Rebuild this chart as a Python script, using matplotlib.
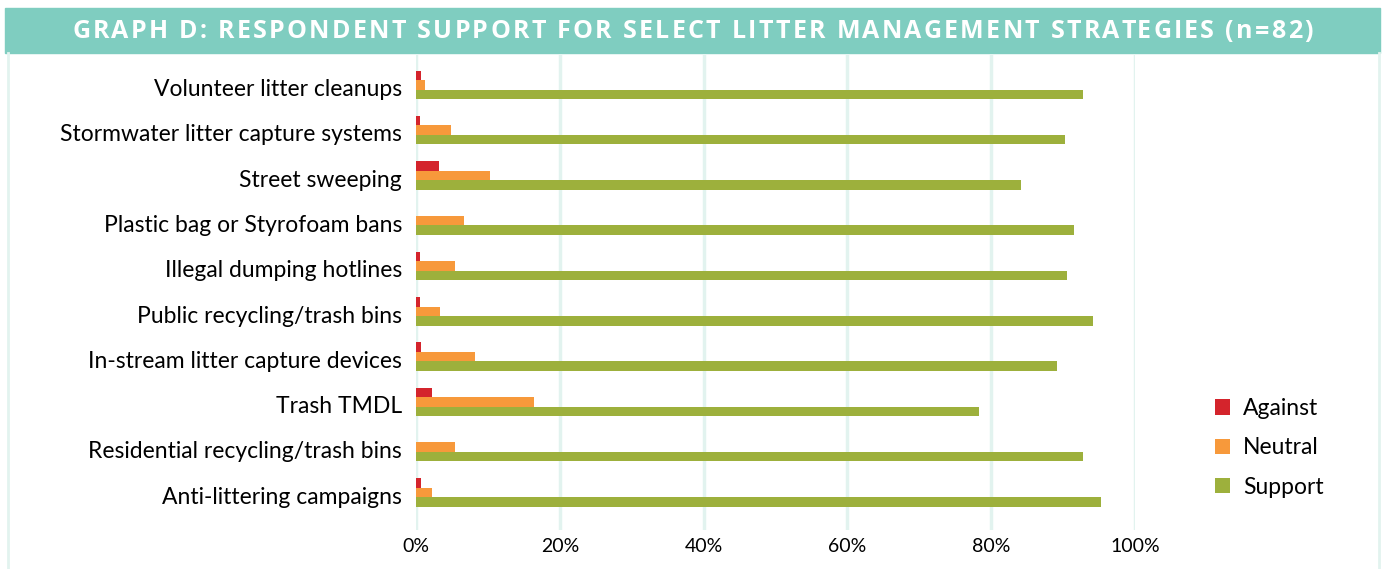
import matplotlib.pyplot as plt
from matplotlib.patches import Rectangle
import numpy as np

plt.rcParams['font.family'] = ['Lato', 'DejaVu Sans']

title = "GRAPH D: RESPONDENT SUPPORT FOR SELECT LITTER MANAGEMENT STRATEGIES (n=82)"
categories = ["Volunteer litter cleanups", "Stormwater litter capture systems",
              "Street sweeping", "Plastic bag or Styrofoam bans",
              "Illegal dumping hotlines", "Public recycling/trash bins",
              "In-stream litter capture devices", "Trash TMDL",
              "Residential recycling/trash bins", "Anti-littering campaigns"]
against = [0.7, 0.6, 3.2, 0.0, 0.6, 0.6, 0.7, 2.2, 0.0, 0.7]
neutral = [1.2, 4.9, 10.3, 6.7, 5.4, 3.3, 8.2, 16.4, 5.4, 2.2]
support = [92.7, 90.2, 84.1, 91.5, 90.5, 94.1, 89.1, 78.3, 92.7, 95.3]
ticks = [0, 20, 40, 60, 80, 100]

red = "#d4242c"
orange = "#f7993b"
green = "#9db03c"
teal = "#7fcdc0"
grid = "#e2f3ef"

W, H = 1387, 569
fig = plt.figure(figsize=(W / 100, H / 100), dpi=100)

# title banner and frame
fig.patches.append(Rectangle((5 / W, 1 - 53 / H), 1375 / W, 45 / H,
                             transform=fig.transFigure, color=teal, zorder=0))
for xf in (8 / W, 1379 / W):
    fig.add_artist(plt.Line2D([xf, xf], [0, 1 - 53 / H], transform=fig.transFigure,
                              color=grid, lw=2))

# title with letter spacing: place each character at its kerned offset plus a gap
renderer = fig.canvas.get_renderer()
tkw = dict(color="white", fontsize=18, fontweight="bold",
           family=["Open Sans", "DejaVu Sans"], va="center", ha="left")


def prefix_width(s):
    if not s:
        return 0.0
    t = fig.text(0, 0, s.replace(" ", "\u00a0"), **tkw)
    w = t.get_window_extent(renderer).width
    t.remove()
    return w


full = prefix_width(title)
gap = (1241 - full) / (len(title) - 1)
x0 = 72
for i, ch in enumerate(title):
    if ch == " ":
        continue
    xp = x0 + prefix_width(title[:i]) + i * gap
    fig.text(xp / W, 1 - 32 / H, ch, **tkw)

ax = fig.add_axes([416 / W, 1 - 530 / H, 719 / W, 475 / H])
y = np.arange(len(categories))
h = 0.21
ax.barh(y - h, against, height=h, color=red, label="Against", zorder=3)
ax.barh(y, neutral, height=h, color=orange, label="Neutral", zorder=3)
ax.barh(y + h, support, height=h, color=green, label="Support", zorder=3)

ax.set_xlim(0, 100)
ax.set_ylim(9.83, -0.66)
ax.set_yticks(y + 0.06)
ax.set_yticklabels(categories, fontsize=16.5)
ax.set_xticks(ticks)
ax.set_xticklabels([f"{t}%" for t in ticks], fontsize=14)
ax.tick_params(length=0, pad=6)
ax.tick_params(axis="y", pad=10)
for t in ticks:
    ax.axvline(t, color=grid, lw=2.5, zorder=1)
for s in ax.spines.values():
    s.set_visible(False)
ax.set_facecolor("none")

handles, labels = ax.get_legend_handles_labels()
fig.legend(handles, labels, loc="center left", bbox_to_anchor=(1194 / W, 1 - 448 / H),
           frameon=False, fontsize=16.5, handlelength=0.65, handleheight=0.65,
           labelspacing=0.8, handletextpad=0.6)

fig.savefig("out.png", dpi=100)
